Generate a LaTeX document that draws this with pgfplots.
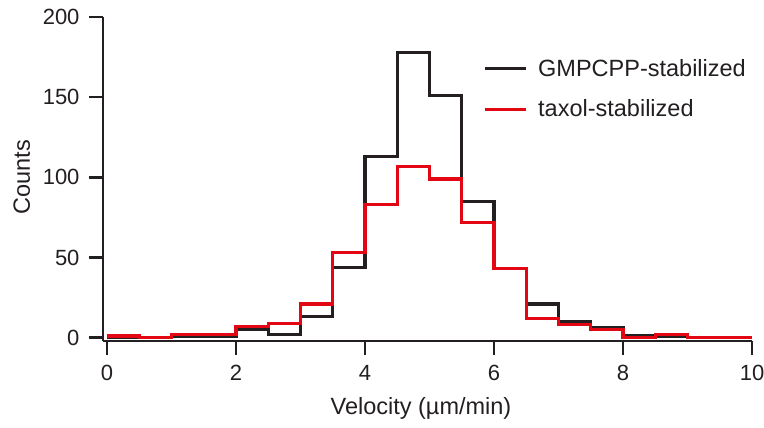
\documentclass[border=0pt]{standalone}
\usepackage{pgfplots}
\pgfplotsset{compat=1.18}
\usepackage{fontspec}
\setmainfont{Liberation Sans}

\definecolor{gmpblack}{HTML}{231F20}
\definecolor{taxred}{HTML}{E30613}

% Velocity histograms, 0.5 um/min bins; each row is a bin's left edge and its count
\pgfplotstableread{
x    c
0    0
0.5  0
1    1
1.5  1
2    5
2.5  2
3    13
3.5  44
4    113
4.5  178
5    151
5.5  85
6    43
6.5  21
7    10
7.5  6
8    1
8.5  1
9    0
9.5  0
10   0
}\gmpcpp

\pgfplotstableread{
x    c
0    1
0.5  0
1    2
1.5  2
2    7
2.5  9
3    21
3.5  53
4    83
4.5  107
5    99
5.5  72
6    43
6.5  12
7    8
7.5  5
8    0
8.5  2
9    0
9.5  0
10   0
}\taxol

\begin{document}
\begin{tikzpicture}
\begin{axis}[
  name=ax,
  at={(0,0)}, anchor=south west,
  scale only axis,
  width=649bp, height=324bp,
  xmin=-0.062, xmax=10,
  ymin=-2.06, ymax=200,
  axis x line=bottom, axis y line=left,
  axis line style={-, line width=2.4bp, gmpblack},
  tick align=outside,
  major tick length=14bp,
  tick style={line width=2.4bp, gmpblack},
  xtick={0,2,4,6,8,10},
  ytick={0,50,100,150,200},
  font=\fontsize{22bp}{26bp}\selectfont,
  /pgf/number format/assume math mode=true,
  ticklabel style={font=\fontsize{22bp}{26bp}\selectfont, text=gmpblack},
  xticklabel style={yshift=-7bp},
  yticklabel style={xshift=-6bp},
  xlabel={Velocity (µm/min)},
  ylabel={Counts},
  xlabel style={at={(axis description cs:0.49,-0.228)}, anchor=base, inner sep=0pt},
  ylabel style={at={(axis description cs:-0.125,0.506)}, anchor=center, inner sep=0pt, rotate=0},
  label style={text=gmpblack, font=\fontsize{23.5bp}{28bp}\selectfont},
  legend style={
    at={(0.5855,0.778)}, anchor=west,
    draw=none, fill=none,
    inner sep=0pt, outer sep=0pt,
    font=\fontsize{23.5bp}{28bp}\selectfont,
    row sep=22bp,
    nodes={inner xsep=0pt, inner ysep=0pt, text=gmpblack},
    column sep=11bp,
  },
  legend cell align=left,
  legend image code/.code={\draw[#1] (0bp,0bp) -- (41bp,0bp);},
  clip=false,
]
\addplot[const plot, line width=3.2bp, gmpblack] table[x=x, y=c] {\gmpcpp};
\addlegendentry{GMPCPP-stabilized}
\addplot[const plot, line width=3.2bp, taxred] table[x=x, y=c] {\taxol};
\addlegendentry{taxol-stabilized}
\end{axis}
\pgfresetboundingbox
\path (-103bp,-87bp) rectangle (661bp,341bp);
\end{tikzpicture}
\end{document}
